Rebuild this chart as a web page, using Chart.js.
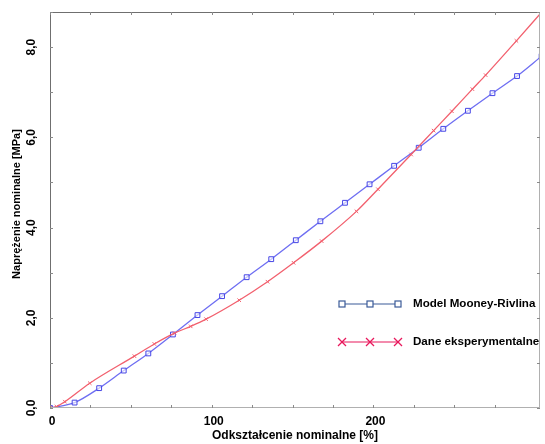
<!DOCTYPE html>
<html><head><meta charset="utf-8">
<script src="https://cdn.jsdelivr.net/npm/chart.js@4"></script>
<style>html,body{margin:0;padding:0;background:#fff}#wrap{width:545px;height:444px;position:relative}</style>
</head><body><div id="wrap"><canvas id="c" width="545" height="444"></canvas></div>
<script>
// ---- data ----
const strainModel = [0, 15.2, 30.4, 45.6, 60.8, 76, 91.2, 106.4, 121.6, 136.8, 152, 167.2, 182.4, 197.6, 212.8, 228, 243.2, 258.4, 273.6, 288.8, 304];
const stressModel = [0, 0.12, 0.44, 0.83, 1.21, 1.63, 2.06, 2.48, 2.90, 3.30, 3.72, 4.14, 4.55, 4.96, 5.37, 5.77, 6.19, 6.59, 6.98, 7.36, 7.80];
const strainExp = [0, 4, 9.2, 24.6, 52.2, 64.5, 77, 87, 96.5, 117, 134.5, 150.6, 168, 189.5, 202.8, 223.3, 237.2, 248.5, 261.2, 269.4, 288.4, 303.6];
const stressExp = [0, 0.03, 0.14, 0.55, 1.15, 1.42, 1.66, 1.81, 1.97, 2.39, 2.80, 3.22, 3.70, 4.36, 4.85, 5.62, 6.15, 6.58, 7.07, 7.38, 8.14, 8.76];
const seriesNames = ['Model Mooney-Rivlina', 'Dane eksperymentalne'];
const xTitle = 'Odkształcenie nominalne [%]';
const yTitle = 'Naprężenie nominalne [MPa]';
const xLabelEvery = 100;
const yLabelEvery = 2;

const FONT = '"Liberation Sans", Arial, Helvetica, sans-serif';

function seg(ctx, x1, y1, x2, y2) { ctx.beginPath(); ctx.moveTo(x1, y1); ctx.lineTo(x2, y2); ctx.stroke(); }

const decorPlugin = {
  id: 'decor',
  afterDraw(chart) {
    const { ctx, chartArea: a, scales: { x, y } } = chart;
    ctx.save();
    ctx.lineWidth = 1;
    // frame
    ctx.strokeStyle = '#6f6f6f';
    seg(ctx, a.left + 0.5, a.top, a.left + 0.5, a.bottom);
    seg(ctx, a.left, a.top + 0.5, a.right, a.top + 0.5);
    ctx.strokeStyle = '#b0b0b0';
    seg(ctx, a.left, a.bottom - 0.5, a.right, a.bottom - 0.5);
    seg(ctx, a.right - 0.5, a.top, a.right - 0.5, a.bottom);
    // tick marks (inward)
    ctx.strokeStyle = '#8a8a8a';
    x.ticks.forEach(t => {
      const px = Math.round(x.getPixelForValue(t.value)) + 0.5;
      if (px > a.right) return;
      seg(ctx, px, a.bottom, px, a.bottom - 3);
      seg(ctx, px, a.top, px, a.top + 3);
    });
    y.ticks.forEach(t => {
      const py = Math.round(y.getPixelForValue(t.value)) + 0.5;
      seg(ctx, a.left, py, a.left + 3, py);
      seg(ctx, a.right, py, a.right - 3, py);
    });
    // tick labels
    ctx.fillStyle = '#000';
    ctx.font = 'bold 12px ' + FONT;
    ctx.textBaseline = 'middle';
    x.ticks.forEach(t => {
      if (t.value % xLabelEvery !== 0) return;
      const px = x.getPixelForValue(t.value);
      const txt = String(t.value);
      const w = ctx.measureText(txt).width;
      if (px + w / 2 > a.right) { ctx.textAlign = 'right'; ctx.fillText(txt, a.right, 422); }
      else { ctx.textAlign = 'center'; ctx.fillText(txt, px + 2, 422); }
    });
    y.ticks.forEach(t => {
      if (t.value % yLabelEvery !== 0) return;
      const py = y.getPixelForValue(t.value);
      ctx.save();
      ctx.translate(32, py);
      ctx.rotate(-Math.PI / 2);
      ctx.textAlign = 'center';
      ctx.fillText(t.value.toFixed(1).replace('.', ','), 0, 0);
      ctx.restore();
    });
    // axis titles
    ctx.font = 'bold 12px ' + FONT;
    ctx.textAlign = 'center';
    ctx.fillText(xTitle, 295, 436);
    ctx.font = 'bold 11px ' + FONT;
    ctx.save();
    ctx.translate(17, 204);
    ctx.rotate(-Math.PI / 2);
    ctx.fillText(yTitle, 0, 0);
    ctx.restore();
    // legend
    const rows = [
      { y: 304, color: '#3b5b98', marker: 'square' },
      { y: 342, color: '#e8185c', marker: 'cross' }
    ];
    rows.forEach((r, i) => {
      ctx.strokeStyle = r.color;
      ctx.lineWidth = 1.2;
      seg(ctx, 342, r.y, 398, r.y);
      [342, 370, 398].forEach(mx => {
        if (r.marker === 'square') {
          ctx.fillStyle = '#fff';
          ctx.fillRect(mx - 3, r.y - 3, 6, 6);
          ctx.lineWidth = 1.2;
          ctx.strokeRect(mx - 3, r.y - 3, 6, 6);
        } else {
          ctx.lineWidth = 1.3;
          seg(ctx, mx - 4, r.y - 4, mx + 4, r.y + 4);
          seg(ctx, mx - 4, r.y + 4, mx + 4, r.y - 4);
        }
      });
      ctx.fillStyle = '#000';
      ctx.font = 'bold 11.6px ' + FONT;
      ctx.textAlign = 'left';
      ctx.textBaseline = 'middle';
      ctx.fillText(seriesNames[i], 413, r.y);
    });
    ctx.restore();
  }
};

new Chart(document.getElementById('c'), {
  type: 'scatter',
  data: {
    datasets: [
      {
        label: seriesNames[1],
        data: strainExp.map((v, i) => ({ x: v, y: stressExp[i] })),
        showLine: true,
        borderColor: '#f2606e',
        borderWidth: 1.3,
        cubicInterpolationMode: 'monotone',
        pointStyle: 'crossRot',
        pointRadius: 2.5,
        pointBorderColor: '#f2606e',
        pointBorderWidth: 1,
        pointBackgroundColor: 'rgba(0,0,0,0)'
      },
      {
        label: seriesNames[0],
        data: strainModel.map((v, i) => ({ x: v, y: stressModel[i] })),
        showLine: true,
        borderColor: '#6e6ef2',
        borderWidth: 1.3,
        cubicInterpolationMode: 'monotone',
        pointStyle: 'rect',
        pointRadius: 3.4,
        pointBorderColor: '#4646e6',
        pointBorderWidth: 1,
        pointBackgroundColor: 'rgba(255,255,255,0.6)'
      }
    ]
  },
  options: {
    responsive: false,
    animation: false,
    events: [],
    layout: { padding: { top: 12, right: 3, left: 0, bottom: 0 } },
    plugins: { legend: { display: false }, tooltip: { enabled: false } },
    scales: {
      x: {
        type: 'linear', min: 0, max: 303,
        ticks: { display: false, stepSize: 25 },
        grid: { display: false }, border: { display: false },
        afterFit(s) { s.height = 36; }
      },
      y: {
        type: 'linear', min: 0, max: 8.78,
        ticks: { display: false, stepSize: 1 },
        grid: { display: false }, border: { display: false },
        afterFit(s) { s.width = 50; }
      }
    }
  },
  plugins: [decorPlugin]
});
</script>
</body></html>
